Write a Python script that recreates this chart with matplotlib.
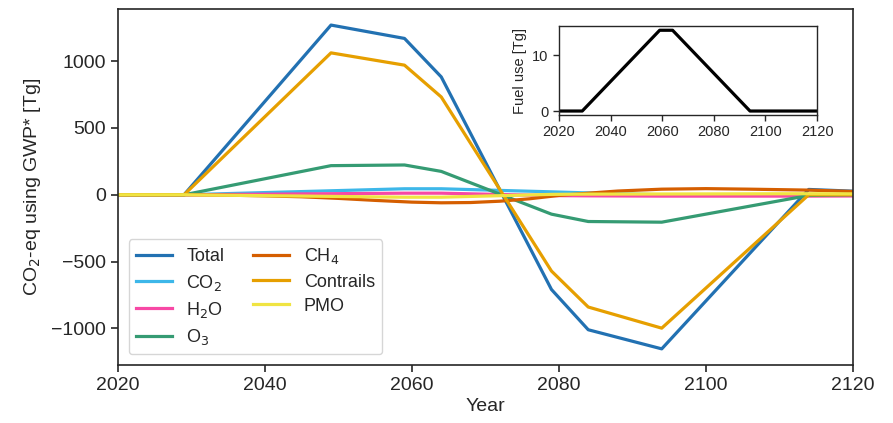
import matplotlib
matplotlib.use("Agg")
import matplotlib.pyplot as plt

plt.rcParams['font.family'] = ['Liberation Sans', 'DejaVu Sans']

years = [2020, 2029, 2049, 2059, 2064, 2079, 2084, 2094, 2114, 2120]
total = [0, 0, 1270, 1170, 882, -709, -1010, -1153, 40, 27]
contrails = [0, 0, 1062, 970, 732, -571, -840, -998, 0, 0]
o3 = [0, 0, 218, 223, 175, -145, -200, -205, -5, 0]
co2 = [0, 0, 30, 45, 45, 22, 14, 0, 0, 0]
h2o = [0, 0, 8, 12, 12, -6, -8, -10, -10, -9]
pmo = [0, 0, -12, -18, -18, 3, 5, 6, 8, 7]

ch4_years = [2020, 2029, 2035, 2040, 2045, 2050, 2055, 2060, 2064, 2068,
             2072, 2076, 2080, 2084, 2088, 2094, 2100, 2106, 2114, 2120]
ch4 = [0, 0, -3, -8, -15, -27, -42, -55, -60, -58,
       -48, -30, -5, 12, 28, 42, 46, 42, 35, 25]

fuel_years = [2020, 2029, 2059, 2064, 2094, 2120]
fuel = [0, 0, 14.5, 14.5, 0, 0]

colors = {
    'Total': '#2271B2', 'CO2': '#3DB7E9', 'H2O': '#F748A5', 'O3': '#359B73',
    'CH4': '#D55E00', 'Contrails': '#E69F00', 'PMO': '#F0E442',
}

spine_c = '#262626'
fig = plt.figure(figsize=(8.93, 4.23), dpi=100)
ax = fig.add_axes([0.132, 0.137, 0.823, 0.842])
lw = 2.3
ax.plot(years, total, color=colors['Total'], lw=lw, label='Total')
ax.plot(years, co2, color=colors['CO2'], lw=lw, label='CO$_2$')
ax.plot(years, h2o, color=colors['H2O'], lw=lw, label='H$_2$O')
ax.plot(years, o3, color=colors['O3'], lw=lw, label='O$_3$')
ax.plot(ch4_years, ch4, color=colors['CH4'], lw=lw, label='CH$_4$')
ax.plot(years, contrails, color=colors['Contrails'], lw=lw, label='Contrails')
ax.plot(years, pmo, color=colors['PMO'], lw=lw, label='PMO')

ax.set_xlim(2020, 2120)
ax.set_xticks([2020, 2040, 2060, 2080, 2100, 2120])
ax.set_yticks([-1000, -500, 0, 500, 1000])
ax.set_xlabel('Year', fontsize=14, color=spine_c, labelpad=3)
ax.set_ylabel('CO$_2$-eq using GWP* [Tg]', fontsize=14, color=spine_c, labelpad=6)
ax.tick_params(labelsize=14, direction='out', length=5, width=1.2, colors=spine_c)
for s in ax.spines.values():
    s.set_color(spine_c)
    s.set_linewidth(1.2)

leg = ax.legend(ncol=2, loc='lower left', fontsize=13, frameon=True,
                handlelength=2.0, columnspacing=1.6, labelspacing=0.4,
                borderaxespad=0.6)
leg.get_frame().set_edgecolor('#cccccc')
for t in leg.get_texts():
    t.set_color(spine_c)

ins = fig.add_axes([0.626, 0.728, 0.289, 0.210])
ins.plot(fuel_years, fuel, color='black', lw=2.3)
ins.set_xlim(2020, 2120)
ins.set_xticks([2020, 2040, 2060, 2080, 2100, 2120])
ins.set_yticks([0, 10])
ins.set_ylabel('Fuel use [Tg]', fontsize=10.5, color=spine_c)
ins.tick_params(labelsize=10.5, direction='out', length=4, width=1.0, colors=spine_c)
for s in ins.spines.values():
    s.set_color(spine_c)
    s.set_linewidth(1.0)

fig.savefig('out.png', dpi=100)
